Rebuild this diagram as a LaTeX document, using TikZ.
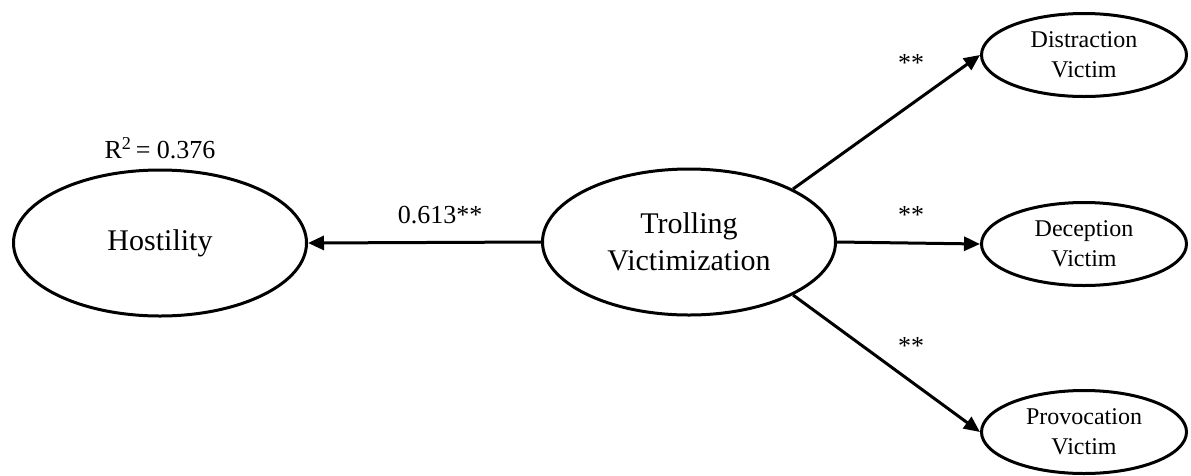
\documentclass[tikz,border=0pt]{standalone}
\usepackage{fontspec}
\setmainfont{Liberation Serif}
\usetikzlibrary{shapes.geometric,arrows.meta}
\begin{document}
\begin{tikzpicture}[x=1pt,y=-1pt,
  latent/.style={ellipse,draw,line width=3pt,inner sep=0pt,align=center,
    minimum width=293pt,minimum height=146pt,font=\fontsize{30}{37}\selectfont},
  indicator/.style={ellipse,draw,line width=3pt,inner sep=0pt,align=center,
    minimum width=205pt,minimum height=83pt,font=\fontsize{24}{30}\selectfont},
  path/.style={line width=3pt,-{Triangle[length=16pt,width=14pt]}},
  coef/.style={font=\fontsize{26}{30}\selectfont,inner sep=0pt}]
\useasboundingbox (0,0) rectangle (1191,475);

% latent constructs
\node[latent] (H) at (160,243) {Hostility};
\node[latent] (T) at (689,242) {Trolling\\Victimization};

% indicators of trolling victimization
\node[indicator] (D)  at (1084,55)  {Distraction\\Victim};
\node[indicator] (Dc) at (1084,244) {Deception\\Victim};
\node[indicator] (P)  at (1084,432) {Provocation\\Victim};

% structural path
\draw[path] (T.west) -- (H.east);
\node[coef] (b1) at (440,215) {0.613**};
\node[coef] (r2) at (160,148) {R\textsuperscript{2}\,= 0.376};

% measurement paths
\draw[path] (T.27) -- (D.west);
\draw[path] (T.east) -- (Dc.west);
\draw[path] (T.-27) -- (P.west);
\node[coef] (s1) at (911,63)  {**};
\node[coef] (s2) at (911,215) {**};
\node[coef] (s3) at (911,346) {**};
\end{tikzpicture}
\end{document}
